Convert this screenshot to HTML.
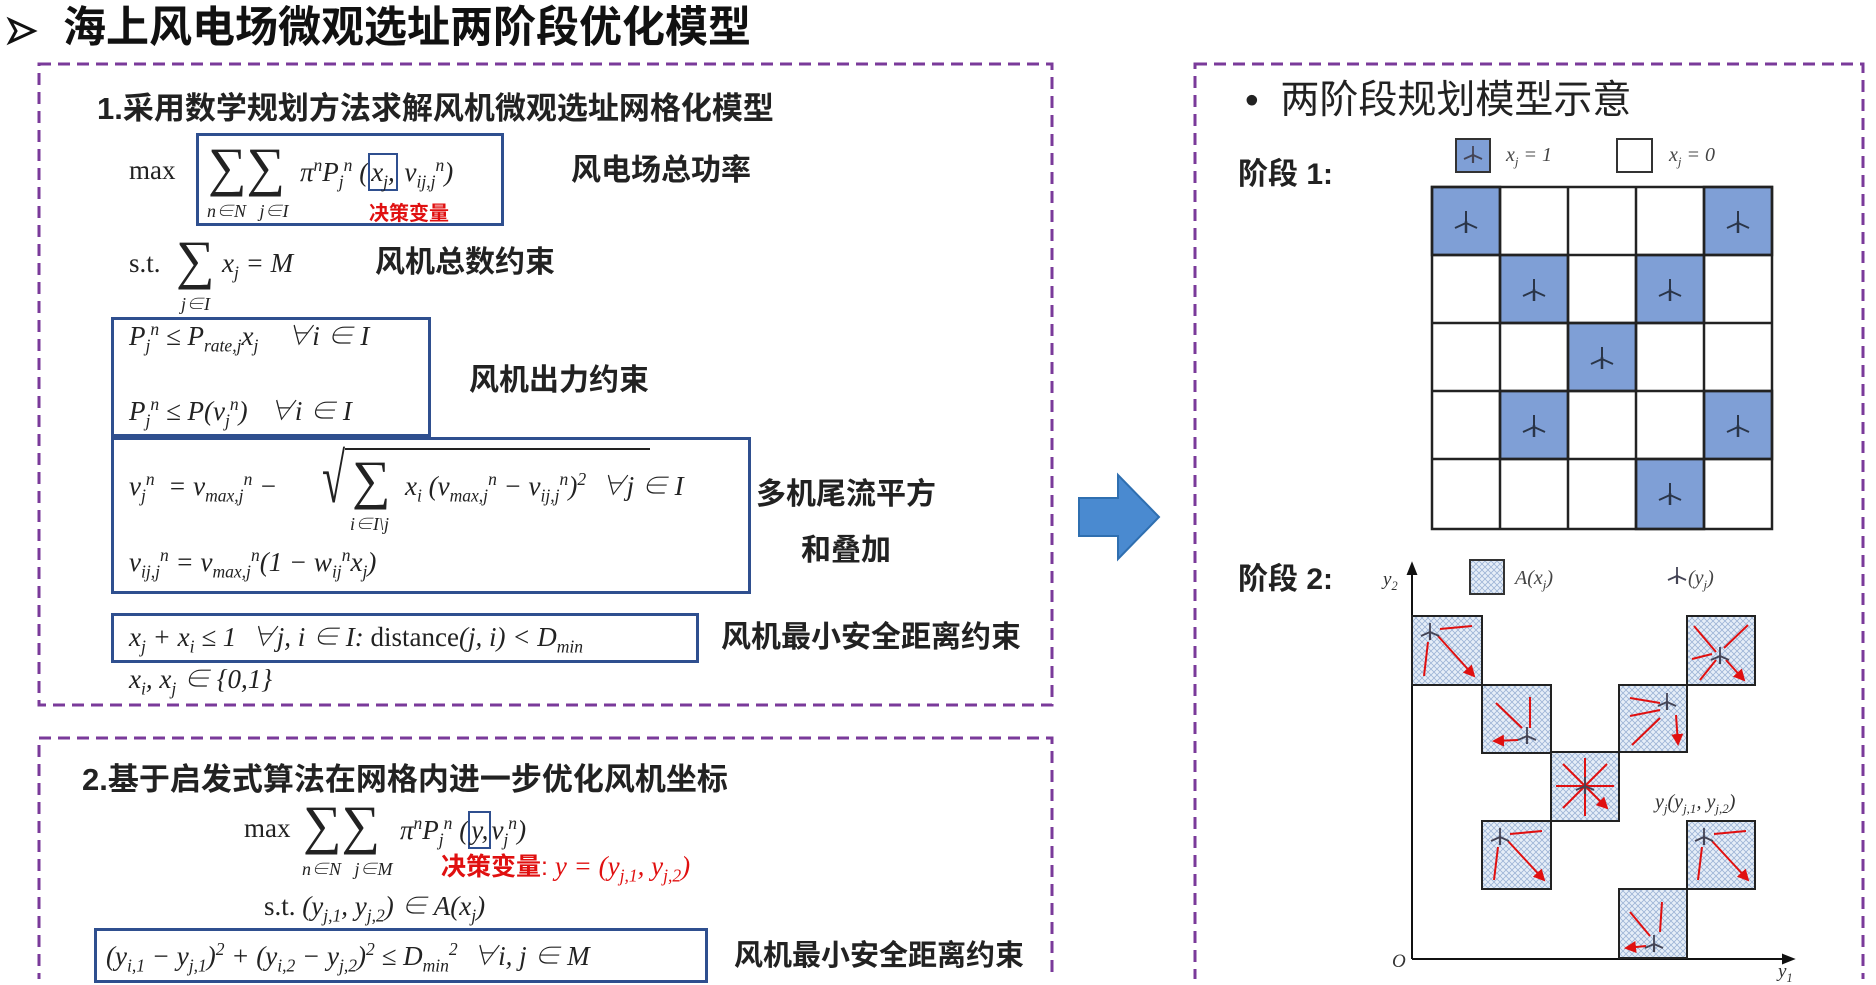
<!DOCTYPE html>
<html><head><meta charset="utf-8"><style>
body{margin:0;width:1876px;height:979px;background:#fff;overflow:hidden;position:relative;font-family:"Liberation Sans","Noto Sans CJK SC",sans-serif}
.a{position:absolute;white-space:nowrap;line-height:1}
.m{font-family:"Liberation Serif","Noto Serif CJK SC",serif;font-size:27px;color:#222}
.i{font-style:italic}
.c{font-family:"Liberation Sans","Noto Sans CJK SC",sans-serif;font-weight:bold;color:#222}
.r{color:#e01010}
sub,sup{font-size:65%}
.S{font-size:54px;font-family:"Liberation Serif",serif}
.box{position:absolute;border:3px solid #2f4f8f;box-sizing:border-box}
.ib{border:2.5px solid #2f4f8f;padding:2px 1px}
svg{position:absolute;left:0;top:0}
</style></head><body>
<svg width="1876" height="979">
<defs>
<pattern id="h" width="6" height="6" patternUnits="userSpaceOnUse"><rect width="6" height="6" fill="#e6eef8"/><path d="M0 0L6 6M6 0L0 6" stroke="#9db4d6" stroke-width="0.8"/></pattern>
<marker id="ar" markerWidth="6" markerHeight="6" refX="5" refY="3" orient="auto"><path d="M0 0L6 3L0 6z" fill="#e01010"/></marker>
<g id="t"><path d="M0 -2V10" stroke="#2a3548" stroke-width="2.5"/><path d="M0 0L-11 5M0 0L11 5M0 0L0 -12" stroke="#2a3548" stroke-width="2"/></g>
<g id="ts"><path d="M0 -1V8" stroke="#445" stroke-width="2.2"/><path d="M0 0L-9 4M0 0L9 4M0 0L0 -9" stroke="#445" stroke-width="1.8"/></g>
</defs>
<g fill="none" stroke="#7a3a9a" stroke-width="3" stroke-dasharray="12 7">
<rect x="39" y="64" width="1013" height="641"/>
<rect x="39" y="738" width="1013" height="260"/>
<rect x="1195" y="64" width="668" height="940"/>
</g>
<path d="M10 20L34 31L10 42L16 31z" fill="none" stroke="#111" stroke-width="3"/>
<path d="M1079 498H1118V475L1159 517L1118 559V536H1079z" fill="#4a8ad0" stroke="#2f6fb0" stroke-width="2"/>
<rect x="1456" y="139" width="34" height="33" fill="#7f9fd6" stroke="#333" stroke-width="2"/>
<use href="#ts" x="1473" y="155"/>
<rect x="1617" y="139" width="35" height="33" fill="#fff" stroke="#333" stroke-width="2"/>
<g stroke="#222" stroke-width="2.5">
<rect x="1432" y="187" width="68" height="68" fill="#7f9fd6"/>
<rect x="1704" y="187" width="68" height="68" fill="#7f9fd6"/>
<rect x="1500" y="255" width="68" height="68" fill="#7f9fd6"/>
<rect x="1636" y="255" width="68" height="68" fill="#7f9fd6"/>
<rect x="1568" y="323" width="68" height="68" fill="#7f9fd6"/>
<rect x="1500" y="391" width="68" height="68" fill="#7f9fd6"/>
<rect x="1704" y="391" width="68" height="68" fill="#7f9fd6"/>
<rect x="1636" y="459" width="68" height="70" fill="#7f9fd6"/>
<path fill="none" d="M1432 187H1772V529H1432zM1500 187V529M1568 187V529M1636 187V529M1704 187V529M1432 255H1772M1432 323H1772M1432 391H1772M1432 459H1772"/>
</g>
<use href="#t" x="1466" y="223"/><use href="#t" x="1738" y="223"/>
<use href="#t" x="1534" y="291"/><use href="#t" x="1670" y="291"/>
<use href="#t" x="1602" y="359"/><use href="#t" x="1534" y="427"/>
<use href="#t" x="1738" y="427"/><use href="#t" x="1670" y="495"/>
<rect x="1470" y="560" width="34" height="34" fill="url(#h)" stroke="#333" stroke-width="2"/>
<use href="#ts" x="1677" y="576"/>
<g stroke="#111" stroke-width="2" fill="#111">
<path d="M1412 959V572M1412 959H1785" fill="none"/>
<path d="M1408 574L1412 564L1416 574z"/><path d="M1783 955L1793 959L1783 963z"/>
</g>
<g stroke="#222" stroke-width="2" fill="url(#h)">
<rect x="1412" y="616" width="70" height="69"/>
<rect x="1482" y="685" width="69" height="68"/>
<rect x="1551" y="752" width="68" height="69"/>
<rect x="1482" y="821" width="69" height="68"/>
<rect x="1619" y="685" width="68" height="67"/>
<rect x="1687" y="616" width="68" height="69"/>
<rect x="1687" y="821" width="68" height="68"/>
<rect x="1619" y="889" width="68" height="69"/>
</g>
<g stroke="#e01010" stroke-width="2" marker-end="url(#ar)">
<path d="M1440 629L1472 626M1428 642L1424 676M1438 636L1474 676"/>
<path d="M1522 728L1496 703M1530 728L1530 697M1518 740L1494 741"/>
<path d="M1585 786L1585 758M1585 786L1585 816M1585 786L1556 786M1585 786L1614 786M1585 786L1563 764M1585 786L1607 764M1585 786L1563 808M1585 786L1607 808"/>
<path d="M1510 834L1542 831M1498 847L1494 880M1508 841L1544 880"/>
<path d="M1660 703L1630 698M1660 710L1630 716M1660 718L1632 745M1676 715L1678 744"/>
<path d="M1716 652L1694 626M1724 648L1748 625M1712 654L1692 659M1716 660L1700 680M1726 660L1744 680"/>
<path d="M1714 834L1746 831M1702 847L1698 880M1712 841L1748 880"/>
<path d="M1650 936L1630 912M1660 932L1662 902M1646 946L1626 948"/>
</g>
<use href="#ts" x="1430" y="632"/><use href="#ts" x="1527" y="736"/><use href="#ts" x="1585" y="786"/>
<use href="#ts" x="1500" y="837"/><use href="#ts" x="1667" y="702"/><use href="#ts" x="1720" y="656"/>
<use href="#ts" x="1704" y="837"/><use href="#ts" x="1654" y="944"/>
</svg>

<div class="a c" style="left:63px;top:7px;font-size:43px;color:#111">海上风电场微观选址两阶段优化模型</div>
<div class="a c" style="left:97px;top:93px;font-size:31px">1.采用数学规划方法求解风机微观选址网格化模型</div>

<div class="box" style="left:196px;top:133px;width:308px;height:93px"></div>
<div class="a m" style="left:129px;top:157px">max</div>
<div class="a m S" style="left:208px;top:140px">∑∑</div>
<div class="a m i" style="left:207px;top:202px;font-size:18px">n∈N&nbsp;&nbsp;&nbsp;j∈I</div>
<div class="a m i" style="left:300px;top:157px">π<sup>n</sup>P<sub>j</sub><sup>n</sup> (<span class="ib">x<sub>j</sub>,</span> v<sub>ij,j</sub><sup>n</sup>)</div>
<div class="a c r" style="left:369px;top:204px;font-size:20px">决策变量</div>
<div class="a c" style="left:571px;top:156px;font-size:30px">风电场总功率</div>

<div class="a m" style="left:129px;top:250px">s.t.</div>
<div class="a m S" style="left:176px;top:233px">∑</div>
<div class="a m i" style="left:181px;top:295px;font-size:18px">j∈I</div>
<div class="a m i" style="left:222px;top:250px">x<sub>j</sub> = M</div>
<div class="a c" style="left:375px;top:248px;font-size:30px">风机总数约束</div>

<div class="box" style="left:111px;top:317px;width:320px;height:120px"></div>
<div class="a m i" style="left:129px;top:321px">P<sub>j</sub><sup>n</sup> ≤ P<sub>rate,j</sub>x<sub>j</sub>&nbsp;&nbsp;&nbsp;&nbsp;∀i ∈ I</div>
<div class="a m i" style="left:129px;top:396px">P<sub>j</sub><sup>n</sup> ≤ P(v<sub>j</sub><sup>n</sup>)&nbsp;&nbsp;&nbsp;∀i ∈ I</div>
<div class="a c" style="left:469px;top:366px;font-size:30px">风机出力约束</div>

<div class="box" style="left:111px;top:437px;width:640px;height:157px"></div>
<div class="a m i" style="left:129px;top:471px">v<sub>j</sub><sup>n</sup>&nbsp; = v<sub>max,j</sub><sup>n</sup> − </div>
<div class="a m" style="left:322px;top:445px;font-size:70px;transform:scaleX(.6);transform-origin:left">√</div>
<div style="position:absolute;left:345px;top:448px;width:305px;height:2px;background:#222"></div>
<div class="a m S" style="left:352px;top:453px">∑</div>
<div class="a m i" style="left:350px;top:515px;font-size:18px">i∈I\j</div>
<div class="a m i" style="left:405px;top:471px">x<sub>i</sub> (v<sub>max,j</sub><sup>n</sup> − v<sub>ij,j</sub><sup>n</sup>)<sup>2</sup>&nbsp; ∀j ∈ I</div>
<div class="a m i" style="left:129px;top:547px">v<sub>ij,j</sub><sup>n</sup> = v<sub>max,j</sub><sup>n</sup>(1 − w<sub>ij</sub><sup>n</sup>x<sub>j</sub>)</div>
<div class="a c" style="left:756px;top:480px;font-size:30px">多机尾流平方</div>
<div class="a c" style="left:801px;top:536px;font-size:30px">和叠加</div>

<div class="box" style="left:111px;top:613px;width:588px;height:50px"></div>
<div class="a m i" style="left:129px;top:624px">x<sub>j</sub> + x<sub>i</sub> ≤ 1&nbsp; ∀j, i ∈ I: <span style="font-style:normal">distance</span>(j, i) &lt; D<sub>min</sub></div>
<div class="a c" style="left:721px;top:623px;font-size:30px">风机最小安全距离约束</div>
<div class="a m i" style="left:129px;top:666px">x<sub>i</sub>, x<sub>j</sub> ∈ {0,1}</div>

<div class="a c" style="left:82px;top:764px;font-size:31px">2.基于启发式算法在网格内进一步优化风机坐标</div>
<div class="a m" style="left:244px;top:815px">max</div>
<div class="a m S" style="left:303px;top:798px">∑∑</div>
<div class="a m i" style="left:302px;top:860px;font-size:18px">n∈N&nbsp;&nbsp;&nbsp;j∈M</div>
<div class="a m i" style="left:400px;top:815px">π<sup>n</sup>P<sub>j</sub><sup>n</sup> (<span class="ib">y,</span>v<sub>j</sub><sup>n</sup>)</div>
<div class="a r" style="left:441px;top:853px;font-size:25px"><b>决策变量</b>: <span class="m i r" style="font-size:27px">y = (y<sub>j,1</sub>, y<sub>j,2</sub>)</span></div>
<div class="a m" style="left:264px;top:893px">s.t. <i>(y<sub>j,1</sub>, y<sub>j,2</sub>) ∈ A(x<sub>j</sub>)</i></div>
<div class="box" style="left:94px;top:928px;width:614px;height:55px"></div>
<div class="a m i" style="left:106px;top:941px">(y<sub>i,1</sub> − y<sub>j,1</sub>)<sup>2</sup> + (y<sub>i,2</sub> − y<sub>j,2</sub>)<sup>2</sup> ≤ D<sub>min</sub><sup>2</sup>&nbsp; ∀i, j ∈ M</div>
<div class="a c" style="left:734px;top:942px;font-size:29px">风机最小安全距离约束</div>

<div class="a" style="left:1245px;top:81px;font-size:39px;color:#222">•&nbsp;&nbsp;两阶段规划模型示意</div>
<div class="a c" style="left:1238px;top:160px;font-size:30px">阶段 1:</div>
<div class="a c" style="left:1238px;top:565px;font-size:30px">阶段 2:</div>
<div class="a m i" style="left:1506px;top:145px;font-size:20px;color:#444">x<sub>j</sub> = 1</div>
<div class="a m i" style="left:1669px;top:145px;font-size:20px;color:#444">x<sub>j</sub> = 0</div>
<div class="a m i" style="left:1515px;top:568px;font-size:20px;color:#444">A(x<sub>j</sub>)</div>
<div class="a m i" style="left:1688px;top:568px;font-size:20px;color:#444">(y<sub>j</sub>)</div>
<div class="a m i" style="left:1655px;top:792px;font-size:20px;color:#333">y<sub>j</sub>(y<sub>j,1</sub>, y<sub>j,2</sub>)</div>
<div class="a m i" style="left:1383px;top:570px;font-size:19px;color:#333">y<sub>2</sub></div>
<div class="a m i" style="left:1392px;top:952px;font-size:19px;color:#333">O</div>
<div class="a m i" style="left:1778px;top:962px;font-size:19px;color:#333">y<sub>1</sub></div>
</body></html>
